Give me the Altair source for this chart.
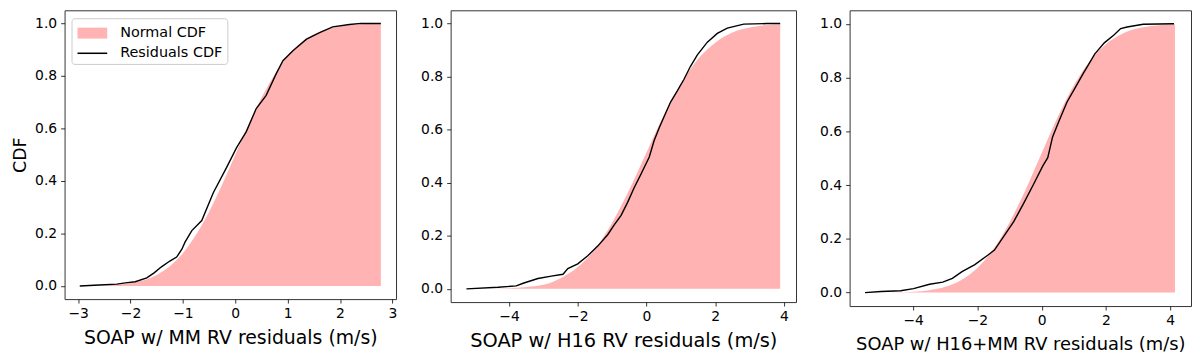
import altair as alt
import pandas as pd

FONT = "DejaVu Sans"

# ---------------- Panel 1: SOAP w/ MM ----------------
p1_norm_x = [-2.95, -2.5, -2.0, -1.75, -1.5, -1.25, -1.0, -0.75, -0.5, -0.25, 0.0,
             0.25, 0.5, 0.75, 1.0, 1.25, 1.5, 1.75, 2.0, 2.25, 2.5, 2.78]
p1_norm_y = [0.0003, 0.002, 0.011, 0.022, 0.042, 0.075, 0.125, 0.195, 0.283, 0.387, 0.5,
             0.613, 0.717, 0.805, 0.875, 0.925, 0.958, 0.978, 0.989, 0.995, 0.998, 0.9993]
p1_res_x = [-2.97, -2.6, -2.26, -2.1, -1.91, -1.69, -1.55, -1.41, -1.25, -1.12, -1.02, -0.96,
            -0.83, -0.64, -0.42, -0.17, 0.02, 0.21, 0.40, 0.59, 0.78, 0.91, 1.10, 1.36,
            1.61, 1.86, 2.18, 2.4, 2.78]
p1_res_y = [0.0, 0.004, 0.007, 0.012, 0.016, 0.031, 0.05, 0.073, 0.095, 0.11, 0.14, 0.167,
            0.211, 0.249, 0.355, 0.45, 0.525, 0.588, 0.676, 0.726, 0.808, 0.858, 0.896, 0.94,
            0.965, 0.987, 0.996, 1.0, 1.0]

# ---------------- Panel 2: SOAP w/ H16 ----------------
p2_norm_x = [-5.24, -4.5, -4.0, -3.5, -3.0, -2.5, -2.0, -1.5, -1.0, -0.5, 0.0,
             0.5, 1.0, 1.5, 2.0, 2.5, 3.0, 3.5, 3.89]
p2_norm_y = [0.0001, 0.0007, 0.0024, 0.007, 0.015, 0.040, 0.082, 0.150, 0.249, 0.374, 0.514,
             0.653, 0.773, 0.866, 0.928, 0.966, 0.985, 0.9945, 0.9975]
p2_res_x = [-5.24, -4.32, -3.79, -3.59, -3.16, -2.77, -2.43, -2.29, -2.0, -1.71, -1.42, -1.13,
            -0.94, -0.74, -0.55, -0.36, -0.17, 0.08, 0.22, 0.37, 0.51, 0.70, 0.90, 1.09,
            1.28, 1.48, 1.77, 2.06, 2.35, 2.83, 3.51, 3.89]
p2_res_y = [0.0, 0.006, 0.011, 0.021, 0.039, 0.048, 0.055, 0.076, 0.094, 0.125, 0.161, 0.204,
            0.241, 0.277, 0.326, 0.381, 0.43, 0.497, 0.558, 0.607, 0.649, 0.704, 0.747, 0.79,
            0.839, 0.882, 0.93, 0.963, 0.983, 0.998, 1.0, 1.0]

# ---------------- Panel 3: SOAP w/ H16+MM ----------------
p3_norm_x = [-5.5, -5.0, -4.5, -4.0, -3.5, -3.0, -2.5, -2.0, -1.5, -1.0, -0.5, 0.0,
             0.5, 1.0, 1.5, 2.0, 2.5, 3.0, 3.5, 4.15]
p3_norm_y = [0.0001, 0.0003, 0.0011, 0.0034, 0.009, 0.022, 0.047, 0.092, 0.162, 0.261, 0.383,
             0.519, 0.653, 0.770, 0.861, 0.924, 0.962, 0.983, 0.993, 0.998]
p3_res_x = [-5.5, -5.0, -4.39, -3.99, -3.49, -3.08, -2.78, -2.48, -2.08, -1.67, -1.47, -1.17,
            -0.87, -0.57, -0.26, 0.04, 0.19, 0.34, 0.54, 0.79, 1.05, 1.30, 1.45, 1.65,
            1.95, 2.25, 2.46, 2.66, 3.16, 4.12]
p3_res_y = [0.0, 0.004, 0.007, 0.015, 0.031, 0.039, 0.053, 0.078, 0.104, 0.14, 0.158, 0.211,
            0.264, 0.33, 0.401, 0.472, 0.502, 0.579, 0.638, 0.709, 0.763, 0.816, 0.846, 0.887,
            0.929, 0.958, 0.982, 0.988, 0.998, 1.0]

series_names = ["Normal CDF", "Residuals CDF"]
y_ticks = [0.0, 0.2, 0.4, 0.6, 0.8, 1.0]

FILL = "#ffb3b3"
LINE = "#000000"
PATCH = "M-1.36,-0.5H1.36V0.5H-1.36Z"
STROKE = "M-1.36,-0.07H1.36V0.07H-1.36Z"


def panel(nx, ny, rx, ry, xdomain, xticks, xtitle, w, h, title_size, label_size,
          legend=False, ytitle=None):
    norm = pd.DataFrame({"x": nx, "y": ny})
    res = pd.DataFrame({"x": rx, "y": ry})

    x_enc = alt.X(
        "x:Q",
        scale=alt.Scale(domain=xdomain, nice=False, zero=False),
        axis=alt.Axis(values=xticks, format="d", title=xtitle, titleFontSize=title_size,
                      labelFontSize=label_size, titlePadding=8, labelPadding=4),
    )
    if ytitle:
        y_axis = alt.Axis(values=y_ticks, format=".1f", labelFontSize=label_size,
                          labelPadding=4, title=ytitle, titlePadding=5, titleFontSize=17.5)
    else:
        y_axis = alt.Axis(values=y_ticks, format=".1f", labelFontSize=label_size,
                          labelPadding=4, title=None)
    y_enc = alt.Y("y:Q", scale=alt.Scale(domain=[-0.05, 1.05], nice=False, zero=False),
                  axis=y_axis)

    area = alt.Chart(norm).mark_area(interpolate="monotone", color=FILL, opacity=1).encode(
        x=x_enc, y=y_enc)
    line = alt.Chart(res).mark_line(strokeWidth=1.4, color=LINE, opacity=1).encode(
        x=x_enc, y=y_enc)
    layers = [area, line]

    if legend:
        key = pd.DataFrame({"x": [nx[0], rx[0]], "y": [ny[0], ry[0]], "series": series_names})
        lg = alt.Legend(
            title=None, orient="none", legendX=7, legendY=8,
            labelFont=FONT, labelFontSize=14.5, labelColor="#000000",
            symbolSize=484, symbolOffset=6, labelOffset=17, rowPadding=2.3,
            symbolOpacity=1, symbolStrokeWidth=0,
            padding=4, strokeColor="#cccccc", fillColor="#ffffff", cornerRadius=3,
        )
        keys = alt.Chart(key).mark_point(filled=True, opacity=0).encode(
            x=x_enc, y=y_enc,
            color=alt.Color("series:N", scale=alt.Scale(domain=series_names, range=[FILL, LINE]),
                            legend=lg),
            shape=alt.Shape("series:N", scale=alt.Scale(domain=series_names, range=[PATCH, STROKE]),
                            legend=lg),
        )
        layers.append(keys)

    return alt.layer(*layers).properties(width=w, height=h)


c1 = panel(p1_norm_x, p1_norm_y, p1_res_x, p1_res_y, [-3.26, 3.07], [-3, -2, -1, 0, 1, 2, 3],
           "SOAP w/ MM RV residuals (m/s)", 334, 291, 19, 14, legend=True, ytitle="CDF")
c2 = panel(p2_norm_x, p2_norm_y, p2_res_x, p2_res_y, [-5.7, 4.35], [-4, -2, 0, 2, 4],
           "SOAP w/ H16 RV residuals (m/s)", 348, 294, 19.5, 14)
c3 = panel(p3_norm_x, p3_norm_y, p3_res_x, p3_res_y, [-5.98, 4.65], [-4, -2, 0, 2, 4],
           "SOAP w/ H16+MM RV residuals (m/s)", 344, 298, 18, 14)

chart = (
    alt.hconcat(c1, c2, c3, spacing=22)
    .resolve_legend(color="independent", shape="independent")
    .properties(padding={"left": 3, "top": 0, "right": 0, "bottom": 0}, background="white")
    .configure(font=FONT)
    .configure_axis(
        grid=False, domain=False, tickColor="#000000", tickSize=4, tickWidth=0.8,
        labelColor="#000000", titleColor="#000000", labelFont=FONT, titleFont=FONT,
        titleFontWeight="normal",
    )
    .configure_view(stroke="#333333", strokeWidth=1)
)

chart.save("out.html", embed_options={"renderer": "svg", "actions": False})
